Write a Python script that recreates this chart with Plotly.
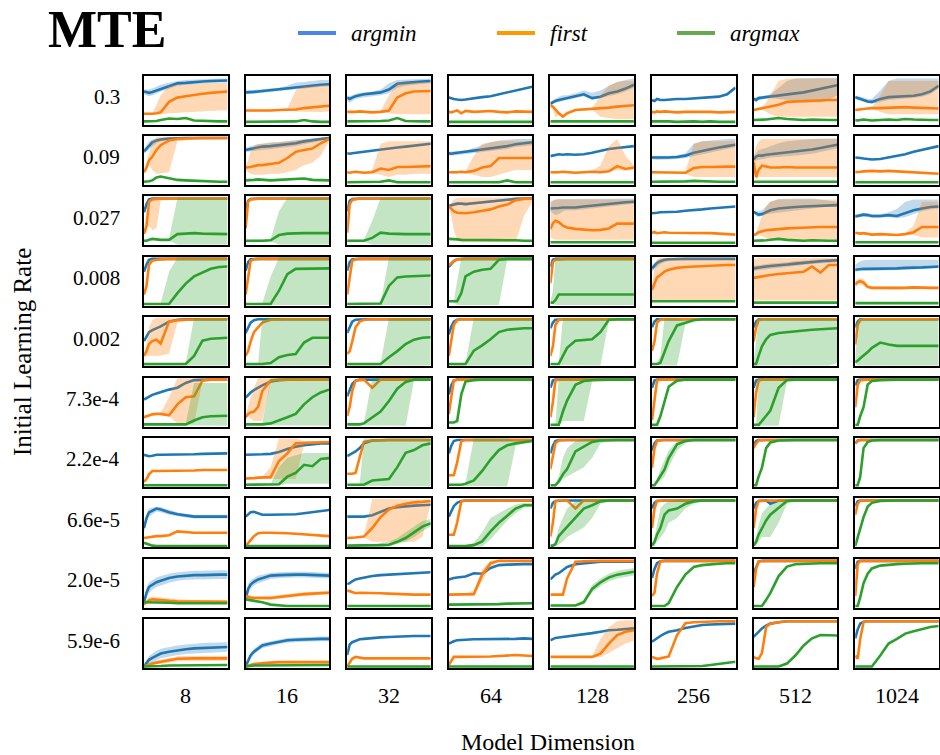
import plotly.graph_objects as go

# ---------------- data ----------------
STEPS = [0, 3, 6, 10, 15, 20, 30, 40, 50, 60, 70, 80, 90, 100]   # % of training
LEARNING_RATES = ["0.3", "0.09", "0.027", "0.008", "0.002", "7.3e-4", "2.2e-4", "6.6e-5", "2.0e-5", "5.9e-6"]
MODEL_DIMS = ["8", "16", "32", "64", "128", "256", "512", "1024"]
SERIES = ["argmin", "first", "argmax"]

ARGMIN = [
 [[68,66,65,67,70,74,80,85,86,88,89,90,91,91],
  [66,66,67,67,68,69,70,72,74,76,78,80,82,83],
  [55,52,55,58,60,62,64,66,72,84,86,88,89,90],
  [55,53,52,51,50,51,54,56,58,62,66,70,74,78],
  [42,45,48,50,52,54,58,62,54,57,64,68,74,82],
  [50,48,52,50,50,51,52,52,53,54,55,57,62,76],
  [52,50,54,55,56,57,59,62,64,66,70,74,77,81],
  [56,54,52,50,47,46,52,56,57,58,59,62,68,80]],
 [[69,75,82,88,92,94,96,97,97,97,97,97,97,97],
  [72,73,74,76,78,79,80,82,84,86,90,93,95,97],
  [65,64,65,66,67,68,70,72,75,77,79,81,83,85],
  [65,64,65,66,66,67,70,73,76,78,80,84,86,88],
  [59,60,62,63,62,63,62,63,66,70,74,76,78,80],
  [56,56,55,56,56,56,57,60,66,70,74,77,80,83],
  [52,58,60,60,62,63,64,66,68,70,73,76,80,83],
  [56,56,55,54,53,52,53,56,60,63,68,72,76,80]],
 [[68,85,95,97,97,97,97,97,97,97,97,97,97,97],
  [70,92,96,97,97,97,97,97,97,97,97,97,97,97],
  [70,92,96,97,97,97,97,97,97,97,97,97,97,97],
  [81,83,85,86,86,85,87,89,91,93,95,96,97,97],
  [76,76,77,77,78,78,78,80,82,84,85,87,89,90],
  [66,66,67,68,68,68,69,71,72,74,76,77,79,80],
  [69,66,63,64,68,72,76,78,79,80,81,82,83,83],
  [59,60,62,63,62,60,60,62,60,66,72,76,79,80]],
 [[70,85,95,97,97,97,97,97,97,97,97,97,97,97],
  [72,90,96,97,97,97,97,97,97,97,97,97,97,97],
  [72,90,96,97,97,97,97,97,97,97,97,97,97,97],
  [80,85,92,96,97,97,97,97,97,97,97,97,97,97],
  [80,95,97,97,97,97,97,97,97,97,97,97,97,97],
  [77,82,88,92,95,96,97,97,97,97,97,97,97,97],
  [77,78,79,80,81,82,83,85,87,89,91,92,93,94],
  [74,75,76,76,76,76,77,77,77,78,78,79,80,81]],
 [[51,62,70,74,78,82,92,96,97,97,97,97,97,97],
  [68,80,90,95,97,97,97,97,97,97,97,97,97,97],
  [68,82,92,96,97,97,97,97,97,97,97,97,97,97],
  [65,82,92,96,97,97,97,97,97,97,97,97,97,97],
  [78,90,96,97,97,97,97,97,97,97,97,97,97,97],
  [80,92,97,97,97,97,97,97,97,97,97,97,97,97],
  [80,92,97,97,97,97,97,97,97,97,97,97,97,97],
  [80,92,97,97,97,97,97,97,97,97,97,97,97,97]],
 [[55,58,62,65,68,71,76,80,90,96,97,97,97,97],
  [59,65,70,75,80,85,93,96,97,97,97,97,97,97],
  [62,75,88,95,97,97,97,97,97,97,97,97,97,97],
  [66,85,95,97,97,97,97,97,97,97,97,97,97,97],
  [80,95,97,97,97,97,97,97,97,97,97,97,97,97],
  [80,95,97,97,97,97,97,97,97,97,97,97,97,97],
  [80,95,97,97,97,97,97,97,97,97,97,97,97,97],
  [85,96,97,97,97,97,97,97,97,97,97,97,97,97]],
 [[66,65,63,64,66,66,66,67,67,67,68,68,69,69],
  [66,66,66,66,67,67,68,72,78,83,86,88,90,90],
  [63,66,70,73,80,90,96,97,97,97,97,97,97,97],
  [69,85,95,97,97,97,97,97,97,97,97,97,97,97],
  [69,85,95,97,97,97,97,97,97,97,97,97,97,97],
  [75,90,96,97,97,97,97,97,97,97,97,97,97,97],
  [85,95,97,97,97,97,97,97,97,97,97,97,97,97],
  [90,96,97,97,97,97,97,97,97,97,97,97,97,97]],
 [[39,60,72,75,80,78,72,68,65,63,63,63,63,63],
  [63,68,72,73,70,67,67,67,67,68,70,72,75,77],
  [63,63,62,62,62,63,66,73,80,83,85,86,87,88],
  [63,75,85,92,96,97,97,97,97,97,97,97,97,97],
  [80,92,96,97,97,97,97,97,97,97,97,97,97,97],
  [80,92,96,97,97,97,97,97,97,97,97,97,97,97],
  [80,92,96,97,97,90,97,97,97,97,97,97,97,97],
  [85,95,97,97,97,97,97,97,97,97,97,97,97,97]],
 [[10,30,42,47,52,55,61,64,66,67,67,68,68,68],
  [16,38,47,53,58,61,66,67,68,68,68,67,67,66],
  [48,50,54,58,60,62,65,67,68,69,70,71,72,73],
  [58,60,61,62,63,64,71,70,82,88,89,90,90,90],
  [58,63,68,71,78,84,90,92,94,95,95,95,95,95],
  [61,80,92,96,97,97,97,97,97,97,97,97,97,97],
  [71,85,95,97,97,97,97,97,97,97,97,97,97,97],
  [80,95,97,97,97,97,97,97,97,97,97,97,97,97]],
 [[2,10,16,20,25,29,33,36,38,40,41,42,42,43],
  [2,15,25,33,40,46,50,54,57,58,59,60,60,60],
  [26,48,53,56,59,60,62,63,64,65,65,66,66,66],
  [50,53,55,57,58,58,59,59,60,60,60,60,61,60],
  [57,60,62,63,64,65,67,70,72,75,78,79,81,82],
  [54,58,62,66,71,75,78,83,86,89,90,91,92,92],
  [64,70,76,82,88,92,95,97,97,97,97,97,97,97],
  [61,80,92,96,97,97,97,97,97,97,97,97,97,97]],
]

FIRST = [
 [[21,21,20,21,22,24,46,55,58,61,63,65,67,68],
  [28,28,27,28,28,27,28,29,30,30,33,35,37,38],
  [25,25,24,25,26,25,24,25,28,55,64,68,68,69],
  [25,24,26,28,22,27,25,26,27,25,24,26,25,25],
  [39,36,30,22,15,22,29,30,31,32,34,36,38,39],
  [25,24,26,25,26,25,24,25,25,26,25,24,25,25],
  [29,30,32,33,35,36,40,46,47,48,49,49,50,50],
  [29,30,30,31,32,33,33,34,35,35,34,33,32,32]],
 [[25,35,50,58,72,82,92,95,96,97,97,97,97,97],
  [35,35,36,38,40,40,42,45,55,68,72,75,86,95],
  [25,24,25,26,25,24,25,33,30,36,36,37,38,38],
  [25,25,24,25,26,25,28,35,38,55,55,55,56,55],
  [25,25,24,25,26,25,24,25,26,25,27,38,32,35],
  [25,25,24,25,24,25,25,24,34,36,36,37,37,37],
  [46,15,30,39,37,35,35,36,35,35,36,35,35,35],
  [25,25,26,27,28,28,27,28,27,26,25,24,23,22]],
 [[23,40,90,95,96,97,97,97,97,97,97,97,97,97],
  [34,90,95,96,97,97,97,97,97,97,97,97,97,97],
  [25,85,94,96,97,97,97,97,97,97,97,97,97,97],
  [81,75,70,67,66,66,68,71,74,80,84,93,96,97],
  [33,45,50,47,40,36,33,31,30,31,34,44,44,44],
  [25,26,24,25,26,25,25,24,25,25,24,23,22,21],
  [20,22,26,28,30,31,33,34,35,36,37,37,37,37],
  [25,24,23,24,22,21,22,21,20,22,26,37,37,37]],
 [[22,40,85,93,95,96,97,97,97,97,97,97,97,97],
  [22,60,93,96,97,97,97,97,97,97,97,97,97,97],
  [22,60,93,96,97,97,97,97,97,97,97,97,97,97],
  [83,88,93,96,97,97,97,97,97,97,97,97,97,97],
  [46,90,95,96,97,97,97,97,97,97,97,97,97,97],
  [32,45,58,63,70,74,78,80,81,82,83,84,84,84],
  [57,58,59,60,62,63,65,67,69,70,81,68,84,84],
  [43,48,50,47,38,36,36,36,35,36,37,36,36,36]],
 [[20,30,45,51,54,46,92,95,96,97,97,97,97,97],
  [20,30,50,70,80,90,96,97,97,97,97,97,97,97],
  [24,30,50,80,92,96,97,97,97,97,97,97,97,97],
  [20,50,85,95,97,97,97,97,97,97,97,97,97,97],
  [20,40,85,96,97,97,97,97,97,97,97,97,97,97],
  [31,50,90,96,97,97,97,97,97,97,97,97,97,97],
  [50,80,95,97,97,97,97,97,97,97,97,97,97,97],
  [44,85,95,97,97,97,97,97,97,97,97,97,97,97]],
 [[18,20,22,24,25,25,22,45,60,62,95,97,97,97],
  [18,25,28,30,40,73,95,97,97,97,97,97,97,97],
  [21,40,73,95,96,97,80,97,97,97,97,97,97,97],
  [25,60,95,97,97,97,97,97,97,97,97,97,97,97],
  [18,50,95,97,97,97,97,97,97,97,97,97,97,97],
  [12,60,95,97,97,97,97,97,97,97,97,97,97,97],
  [18,70,95,97,97,97,97,97,97,97,97,97,97,97],
  [39,85,96,97,97,97,97,97,97,97,97,97,97,97]],
 [[9,15,25,32,32,32,32,33,33,33,34,34,34,34],
  [16,16,17,17,18,18,19,53,69,90,91,92,93,93],
  [26,26,26,28,60,93,96,97,97,97,97,97,97,97],
  [23,23,23,50,95,97,97,97,97,97,97,97,97,97],
  [36,60,90,96,97,97,97,97,97,97,97,97,97,97],
  [39,80,95,97,97,97,97,97,97,97,97,97,97,97],
  [80,90,96,97,97,97,97,97,97,97,97,97,97,97],
  [90,95,97,97,97,97,97,97,97,97,97,97,97,97]],
 [[18,19,20,21,22,22,24,32,30,29,29,29,29,29],
  [1,8,15,22,28,29,29,29,28,27,26,25,23,22],
  [18,18,19,19,20,21,39,62,78,86,90,93,94,96],
  [25,25,25,50,95,97,97,97,97,97,97,97,97,97],
  [21,50,95,97,97,97,80,97,97,97,97,97,97,97],
  [39,80,96,97,97,97,97,97,97,97,97,97,97,97],
  [39,80,96,97,97,97,97,97,97,97,97,97,97,97],
  [67,90,97,97,97,97,97,97,97,97,97,97,97,97]],
 [[6,10,14,16,15,14,13,12,12,11,11,11,11,11],
  [23,21,20,19,19,19,19,21,23,26,27,28,29,30],
  [35,33,30,29,30,30,30,29,28,27,27,26,26,26],
  [26,26,26,26,26,26,27,68,92,97,97,97,97,97],
  [26,26,26,26,26,60,95,96,97,97,97,97,97,97],
  [23,30,70,96,97,97,97,97,97,97,97,97,97,97],
  [42,80,96,97,97,97,97,97,97,97,97,97,97,97],
  [23,90,97,97,97,97,97,97,97,97,97,97,97,97]],
 [[2,4,6,8,10,12,15,18,19,19,19,19,19,19],
  [2,3,5,7,8,9,10,11,11,11,11,11,11,11],
  [2,10,18,22,20,19,19,19,19,19,20,19,20,19],
  [5,15,22,22,22,22,22,23,23,24,25,26,25,24],
  [22,22,22,22,22,22,22,22,22,29,50,68,75,78],
  [22,20,18,19,21,23,68,93,95,96,97,97,97,97],
  [22,19,18,30,85,92,95,97,97,97,97,97,97,97],
  [25,18,60,95,97,97,97,97,97,97,97,97,97,97]],
]

ARGMAX = [
 [[5,5,6,5,6,8,11,10,12,7,6,5,5,5],
  [4,4,4,4,5,4,4,5,4,5,8,5,4,4],
  [5,5,6,5,5,5,5,6,7,12,6,5,5,5],
  [4,4,4,5,4,4,4,5,4,4,5,4,4,4],
  [5,5,5,6,5,5,6,5,5,5,6,5,5,5],
  [5,5,6,5,5,5,4,5,5,4,5,4,4,4],
  [8,8,9,8,9,10,12,10,9,8,9,8,8,8],
  [8,7,8,9,8,7,8,9,8,10,9,8,8,8]],
 [[5,5,6,8,14,16,12,9,8,7,6,5,5,5],
  [8,8,8,9,10,9,8,9,10,10,12,9,8,8],
  [4,4,4,4,4,4,4,5,8,4,4,4,4,4],
  [4,4,4,4,4,4,4,4,4,4,8,4,4,4],
  [4,4,4,4,4,5,4,4,4,4,4,4,4,4],
  [5,5,5,5,5,5,5,6,7,6,5,5,5,5],
  [5,5,6,6,5,5,6,5,5,5,5,5,5,5],
  [4,4,4,4,4,4,4,4,4,4,4,4,4,4]],
 [[8,8,10,12,11,10,10,22,23,24,23,23,22,22],
  [8,8,8,8,7,8,9,20,23,24,24,24,24,24],
  [8,8,8,8,8,8,14,25,23,22,22,22,22,22],
  [12,12,11,11,10,10,10,10,9,10,9,9,8,8],
  [5,5,5,5,5,6,5,5,5,5,5,5,5,5],
  [4,4,4,4,4,4,4,4,4,4,4,4,4,4],
  [8,8,9,8,9,10,12,10,9,8,9,8,8,8],
  [5,5,5,5,5,5,5,5,5,5,6,5,5,5]],
 [[2,2,2,2,2,2,2,25,45,60,68,76,80,81],
  [2,2,2,2,2,2,2,30,65,76,76,77,77,77],
  [2,2,2,2,2,2,2,3,40,58,60,61,62,62],
  [8,8,8,8,25,60,70,74,76,95,97,97,97,97],
  [5,5,10,22,22,22,22,22,23,22,22,22,22,22],
  [8,8,8,8,8,8,8,8,8,8,8,8,8,8],
  [5,5,5,5,5,5,5,5,5,5,5,5,5,5],
  [4,4,4,4,4,4,4,4,4,4,4,4,4,4]],
 [[3,3,3,3,3,3,3,3,3,20,52,56,57,58],
  [3,3,3,3,3,3,5,17,22,24,48,58,58,58],
  [3,3,3,3,3,3,3,3,17,30,45,54,58,59],
  [3,3,3,3,3,3,31,42,55,70,75,77,78,78],
  [3,3,3,3,20,37,52,54,55,70,96,97,97,97],
  [3,3,3,5,30,51,84,90,95,97,97,97,97,97],
  [3,3,20,40,55,64,68,70,72,74,75,76,77,78],
  [7,10,15,20,28,37,48,44,41,41,41,41,41,41]],
 [[3,3,3,3,3,3,3,3,3,11,18,20,21,21],
  [3,3,3,3,3,3,5,11,18,25,45,60,70,76],
  [3,3,3,3,3,5,18,30,52,78,92,97,97,97],
  [7,7,7,10,66,93,96,97,97,97,97,97,97,97],
  [2,2,2,2,30,53,86,94,96,97,97,97,97,97],
  [2,2,2,20,53,82,95,97,97,97,97,97,97,97],
  [2,2,2,10,22,32,80,96,97,97,97,97,97,97],
  [2,2,20,39,87,94,96,97,97,97,97,97,97,97]],
 [[2,2,2,2,2,2,2,2,2,2,2,2,2,2],
  [3,3,3,3,3,3,3,4,20,28,45,42,57,59],
  [3,3,3,3,3,3,12,14,15,40,70,76,86,90],
  [3,3,3,3,3,5,12,32,56,76,86,90,93,95],
  [2,2,2,10,25,36,73,83,93,96,97,97,97,97],
  [2,2,10,22,35,59,88,95,97,97,97,97,97,97],
  [2,2,20,39,80,92,96,97,97,97,97,97,97,97],
  [2,2,20,80,93,96,97,97,97,97,97,97,97,97]],
 [[8,6,4,2,1,1,1,1,1,1,1,1,1,1],
  [1,1,1,1,1,1,1,1,1,1,1,1,1,1],
  [2,2,2,2,2,2,2,3,4,10,18,30,42,49],
  [1,1,1,1,1,1,3,11,32,50,65,80,87,87],
  [2,2,5,22,32,42,60,80,87,95,97,97,97,97],
  [2,10,25,39,67,76,80,90,95,97,97,97,97,97],
  [2,10,25,39,55,67,82,96,97,97,97,97,97,97],
  [1,20,40,62,84,92,96,97,97,97,97,97,97,97]],
 [[10,10,10,10,9,9,9,8,8,8,8,8,8,8],
  [16,15,14,13,12,10,5,3,2,2,2,2,2,2],
  [2,2,2,2,2,2,2,2,2,2,2,2,2,2],
  [5,5,5,5,5,5,5,5,6,6,7,7,8,8],
  [3,3,3,3,3,3,3,10,38,52,62,68,71,74],
  [2,2,2,2,2,8,42,68,84,88,90,91,92,92],
  [2,2,2,2,15,29,65,85,90,91,92,92,92,92],
  [2,2,20,50,70,81,87,89,90,91,92,92,92,92]],
 [[2,2,3,3,3,3,4,4,4,4,5,5,5,5],
  [2,3,3,4,4,4,4,5,5,5,5,5,5,5],
  [2,2,2,2,2,2,2,2,2,2,2,2,2,2],
  [2,2,2,2,2,2,2,2,2,2,2,2,2,2],
  [2,2,2,2,2,2,2,2,2,2,2,2,2,2],
  [2,2,2,2,2,2,2,2,2,3,5,7,9,12],
  [2,2,2,2,2,2,2,8,25,46,61,68,67,67],
  [2,2,2,2,2,2,25,50,60,71,76,80,85,87]],
]

# spread bands over seeds: (row, col, series index, lower, upper)
BANDS = [
 (0,0,0,[62,60,58,60,64,68,74,80,82,84,85,86,87,87],[72,72,72,74,78,82,86,90,92,93,94,95,95,95]),
 (0,0,1,[19,19,18,19,19,20,22,24,25,26,26,27,28,28],[23,23,22,23,40,60,80,82,83,84,85,86,86,86]),
 (0,1,0,[62,62,63,63,64,65,66,68,70,72,74,76,78,79],[70,70,71,71,72,73,74,76,80,86,88,90,92,92]),
 (0,1,1,[26,26,25,26,26,25,26,27,28,26,25,25,25,26],[30,30,29,30,30,29,30,31,32,70,80,80,82,82]),
 (0,2,0,[48,44,48,52,54,56,58,60,64,76,80,82,84,85],[60,58,60,63,65,66,68,72,85,92,93,94,95,95]),
 (0,2,1,[23,23,22,23,24,23,22,23,22,20,20,20,20,20],[27,27,26,27,28,27,26,27,60,86,88,88,88,88]),
 (0,4,0,[38,42,44,47,48,50,54,58,50,53,58,62,68,76],[47,50,54,57,60,60,64,70,65,70,80,88,92,95]),
 (0,4,1,[35,30,14,18,13,20,27,28,29,15,12,10,10,10],[43,40,34,26,20,26,31,32,33,60,80,88,90,90]),
 (0,6,0,[48,46,50,52,53,54,52,50,48,45,45,45,50,60],[56,56,58,58,60,62,75,90,95,96,97,97,97,97]),
 (0,6,1,[27,27,30,30,25,20,15,15,15,15,15,15,15,15],[31,33,34,36,45,60,90,95,95,95,95,95,95,95]),
 (0,7,0,[52,50,48,46,43,42,46,50,52,53,54,57,62,74],[60,58,56,55,52,52,70,90,95,95,95,95,95,95]),
 (0,7,1,[27,28,28,29,30,31,25,20,20,20,20,20,20,20],[31,32,32,33,34,35,60,90,90,90,90,90,90,90]),
 (1,0,0,[64,68,74,80,86,90,93,95,95,95,95,95,95,95],[74,82,90,94,96,97,98,99,99,99,99,99,99,99]),
 (1,0,1,[24,30,40,30,22,22,25,90,92,94,95,95,95,95],[28,42,65,90,98,99,99,99,99,99,99,99,99,99]),
 (1,1,0,[68,68,69,70,72,73,74,76,78,80,84,88,91,94],[76,78,80,82,84,85,86,88,90,92,95,97,98,99]),
 (1,1,1,[30,25,22,20,20,20,22,22,25,30,40,45,60,90],[40,50,70,80,85,85,88,88,90,92,93,95,97,99]),
 (1,2,1,[23,22,23,24,23,22,23,20,15,20,20,22,22,22],[27,26,27,28,27,26,30,85,90,90,90,90,90,90]),
 (1,3,0,[61,60,61,62,62,63,66,68,70,72,74,78,80,82],[69,68,69,70,70,71,76,82,88,92,94,95,95,95]),
 (1,3,1,[23,23,22,23,24,23,20,15,15,20,25,30,30,30],[27,27,26,27,28,27,60,85,88,90,90,90,90,90]),
 (1,4,1,[23,23,22,23,24,23,22,23,24,23,25,30,28,31],[27,27,26,27,28,27,26,27,28,40,80,95,60,40]),
 (1,5,0,[52,52,51,52,52,52,53,55,58,62,66,70,74,78],[60,60,59,60,60,60,61,65,85,90,92,94,95,95]),
 (1,5,1,[23,23,22,23,22,23,23,22,15,15,15,15,15,15],[27,27,26,27,26,27,27,26,85,90,90,90,90,90]),
 (1,6,0,[46,50,50,52,54,56,57,58,60,62,64,67,71,75],[58,66,72,74,76,80,86,90,92,94,95,96,96,96]),
 (1,6,1,[30,10,15,15,15,15,15,15,15,15,15,15,15,15],[60,80,90,95,95,95,95,95,95,95,95,95,95,95]),
 (2,0,1,[20,25,40,30,35,92,95,95,95,95,95,95,95,95],[26,55,96,98,99,99,99,99,99,99,99,99,99,99]),
 (2,0,2,[6,6,8,10,9,8,8,0,0,0,0,0,0,0],[10,10,12,14,13,12,12,98,98,98,98,98,98,98]),
 (2,1,2,[6,6,6,6,5,6,7,0,0,0,0,0,0,0],[10,10,10,10,9,10,11,70,98,98,98,98,98,98]),
 (2,2,2,[6,6,6,6,6,6,0,0,0,0,0,0,0,0],[10,10,10,10,10,10,50,98,98,98,98,98,98,98]),
 (2,3,0,[78,80,82,83,83,82,84,86,88,90,92,94,95,95],[84,86,88,89,89,88,90,92,94,96,97,98,98,98]),
 (2,3,1,[78,60,30,10,5,5,5,5,5,5,5,5,60,90],[85,88,95,98,99,99,99,99,99,99,99,99,99,99]),
 (2,4,0,[70,66,62,64,70,72,72,74,76,78,80,82,84,86],[88,92,95,96,96,96,96,96,96,96,97,97,97,97]),
 (2,4,1,[15,12,10,10,10,10,10,10,10,10,10,10,10,10],[92,94,95,95,95,95,95,95,95,95,95,95,95,95]),
 (2,6,0,[66,60,58,60,64,66,68,70,72,74,76,78,80,80],[72,70,70,72,80,90,96,97,97,97,97,95,92,90]),
 (2,6,1,[18,18,20,18,15,12,10,10,10,10,10,10,10,10],[22,25,40,60,80,90,95,95,95,95,95,95,95,95]),
 (2,7,0,[55,56,58,59,58,56,56,58,55,58,64,70,74,76],[63,64,66,67,66,64,64,68,75,90,95,95,95,95]),
 (2,7,1,[23,22,21,22,20,19,20,19,18,20,20,15,15,15],[27,26,25,26,24,23,24,23,22,24,40,90,90,90]),
 (3,0,2,[0,0,0,0,0,0,0,0,0,0,0,0,0,0],[4,4,4,4,4,4,70,100,100,100,100,100,100,100]),
 (3,1,2,[0,0,0,0,0,0,0,0,0,0,0,0,0,0],[4,4,4,4,4,4,60,100,100,100,100,100,100,100]),
 (3,2,2,[0,0,0,0,0,0,0,0,0,0,0,0,0,0],[4,4,4,4,4,4,4,4,100,100,100,100,100,100]),
 (3,3,2,[6,6,6,0,0,0,0,0,0,0,95,95,95,95],[10,10,10,50,100,100,100,100,100,100,98,98,98,98]),
 (3,4,2,[3,3,0,0,0,0,0,0,0,0,0,0,0,0],[7,30,100,100,100,100,100,100,100,100,100,100,100,100]),
 (3,5,0,[70,74,80,86,90,92,94,95,95,95,95,95,95,95],[84,90,94,97,98,98,98,98,98,98,98,98,98,98]),
 (3,5,1,[10,10,10,10,10,10,10,10,10,10,10,10,10,10],[40,80,95,99,99,99,99,99,99,99,99,99,99,99]),
 (3,6,0,[72,73,74,75,76,77,78,80,82,84,86,88,89,90],[82,83,84,85,86,87,88,90,92,94,95,96,97,97]),
 (3,6,1,[10,10,10,10,10,10,10,10,10,10,10,10,10,10],[95,97,99,99,99,99,99,99,99,99,99,99,99,99]),
 (3,7,0,[70,71,72,72,72,72,73,73,73,74,74,75,76,77],[85,88,92,94,95,95,95,95,95,95,95,95,95,95]),
 (3,7,1,[38,42,44,40,34,33,33,33,32,33,34,33,33,33],[48,54,56,54,42,39,39,39,38,39,40,39,39,39]),
 (4,0,1,[18,20,20,20,20,20,25,90,93,95,95,95,95,95],[22,45,80,95,100,100,100,98,99,99,99,99,99,99]),
 (4,0,2,[0,0,0,0,0,0,0,0,0,0,0,0,0,0],[5,5,5,5,5,5,5,5,5,100,100,100,100,100]),
 (4,1,2,[0,0,0,0,0,0,0,0,0,0,0,0,0,0],[5,5,5,5,5,100,100,100,100,100,100,100,100,100]),
 (4,2,2,[0,0,0,0,0,0,0,0,0,0,0,0,0,0],[5,5,5,5,5,5,5,5,100,100,100,100,100,100]),
 (4,3,2,[0,0,0,0,0,0,0,0,0,0,0,0,0,0],[5,5,5,5,5,5,100,100,100,100,100,100,100,100]),
 (4,4,2,[1,1,1,1,0,0,0,0,0,0,94,95,95,95],[5,5,5,5,100,100,100,100,100,100,98,98,98,98]),
 (4,5,2,[1,1,1,1,0,0,0,88,93,95,95,95,95,95],[5,5,5,20,100,100,100,92,97,98,98,98,98,98]),
 (4,6,2,[0,0,0,0,0,0,0,0,0,0,0,0,0,5],[5,50,100,100,100,100,100,100,100,100,100,100,100,97]),
 (4,7,2,[5,0,0,0,0,0,0,0,0,0,0,0,0,0],[9,97,97,97,97,97,97,97,97,97,97,97,97,97]),
 (5,0,1,[16,18,20,22,23,23,20,5,5,5,93,95,95,95],[20,22,24,26,27,27,60,100,100,100,99,99,99,99]),
 (5,0,2,[1,1,1,1,1,1,1,1,1,0,0,0,0,0],[5,5,5,5,5,5,5,5,5,90,90,90,90,90]),
 (5,1,1,[16,20,15,10,10,10,90,95,95,95,95,95,95,95],[20,40,60,80,100,100,100,99,99,99,99,99,99,99]),
 (5,1,2,[1,1,1,1,1,1,0,0,0,0,0,0,0,0],[5,5,5,5,5,5,100,100,100,100,100,100,100,100]),
 (5,2,2,[1,1,1,1,1,1,0,0,0,0,0,95,95,95],[5,5,5,5,5,5,100,100,100,100,100,99,99,99]),
 (5,4,2,[0,0,0,0,10,10,10,10,94,95,95,95,95,95],[4,4,4,100,100,100,100,100,98,98,98,98,98,98]),
 (5,6,2,[0,0,0,0,0,0,0,94,95,95,95,95,95,95],[4,4,100,100,100,100,100,98,98,98,98,98,98,98]),
 (6,1,1,[14,14,15,15,16,16,15,15,15,15,88,90,91,91],[18,18,19,19,20,20,40,100,100,100,95,95,95,95]),
 (6,1,2,[1,1,1,1,1,1,1,2,5,5,5,5,5,5],[5,5,5,5,5,5,5,40,60,65,70,70,70,70]),
 (6,2,2,[1,1,1,1,1,0,0,0,0,0,0,0,0,0],[5,5,5,5,5,100,100,100,100,100,100,100,100,100]),
 (6,3,2,[1,1,1,1,1,1,0,0,0,0,0,85,90,93],[5,5,5,5,5,7,100,100,100,100,100,95,96,97]),
 (6,4,2,[0,0,0,5,15,20,30,40,60,90,95,95,95,95],[4,4,4,20,60,80,95,99,99,99,99,99,99,99]),
 (6,5,2,[0,0,5,12,20,40,75,90,95,95,95,95,95,95],[4,4,15,35,55,75,95,99,99,99,99,99,99,99]),
 (7,0,0,[30,50,62,68,74,72,67,64,61,59,59,59,59,59],[46,68,80,82,84,83,77,72,69,67,67,67,67,67]),
 (7,2,1,[16,16,17,17,18,19,10,10,10,10,10,10,20,90],[20,20,21,21,22,23,100,100,100,100,100,100,100,99]),
 (7,2,2,[0,0,0,0,0,0,0,0,0,5,10,20,32,42],[4,4,4,4,4,4,4,8,10,18,30,42,54,58]),
 (7,3,2,[0,0,0,0,0,0,0,0,15,35,55,70,82,84],[3,3,3,3,3,3,8,30,60,70,80,88,92,92]),
 (7,4,2,[0,0,0,5,10,20,30,40,60,90,95,95,95,95],[4,4,10,40,60,80,95,99,99,99,99,99,99,99]),
 (7,5,2,[0,2,10,20,30,50,60,80,90,95,95,95,95,95],[4,20,45,80,90,95,99,99,99,99,99,99,99,99]),
 (7,6,2,[0,2,10,20,20,20,50,90,95,95,95,95,95,95],[4,20,45,70,80,90,97,99,99,99,99,99,99,99]),
 (8,0,0,[5,20,30,36,42,45,51,55,57,58,58,59,59,59],[15,40,52,57,62,65,70,73,75,76,76,77,77,77]),
 (8,0,1,[3,5,8,10,10,10,10,9,9,8,8,8,8,8],[9,16,21,22,21,19,17,16,15,14,14,14,14,14]),
 (8,1,0,[10,28,38,45,50,54,59,61,62,62,62,61,61,60],[22,48,56,61,66,68,72,73,74,74,74,73,73,72]),
 (8,1,1,[19,17,16,15,15,15,15,17,19,22,23,24,25,26],[27,25,24,23,23,23,23,25,27,30,31,32,33,34]),
 (8,3,1,[24,24,24,24,24,24,24,55,85,95,95,95,95,95],[28,28,28,28,28,28,35,80,97,99,99,99,99,99]),
 (8,4,2,[1,1,1,1,1,1,1,5,30,44,54,60,63,66],[5,5,5,5,5,5,5,15,46,60,70,76,79,82]),
 (9,0,0,[0,4,8,11,15,19,23,26,28,30,31,32,32,33],[4,16,24,29,35,39,43,46,48,50,51,52,52,53]),
 (9,0,1,[0,2,3,5,6,8,10,13,14,14,14,14,14,14],[4,6,9,11,14,16,20,23,24,24,24,24,24,24]),
 (9,1,0,[0,10,19,27,34,40,45,49,52,53,54,55,55,55],[4,20,31,39,46,52,55,59,62,63,64,65,65,65]),
 (9,1,1,[0,1,3,4,5,6,7,8,8,8,8,8,8,8],[4,5,8,10,11,12,13,14,14,14,14,14,14,14]),
 (9,4,1,[20,20,20,20,20,20,20,20,20,22,30,40,50,56],[24,24,24,24,24,24,24,24,24,60,85,97,99,99]),
]

# ---------------- styling ----------------
W, H = 940, 755
LINE_COLORS = ["#1f77b4", "#ff7f0e", "#2ca02c"]
BAND_COLORS = ["rgba(31,119,180,0.28)", "rgba(255,127,14,0.30)", "rgba(44,160,44,0.28)"]
LEGEND_COLORS = ["#4a86e8", "#ff9900", "#6aa84f"]
SERIF = "Liberation Serif, Times New Roman, serif"

COL_LEFT0, COL_PITCH, PANEL_W = 144.0, 101.6, 83.5
ROW_TOP0, ROW_PITCH, PANEL_H = 75.5, 60.4, 49.0

def px_x(x):
    return x / W

def px_y(y):
    return 1 - y / H

series_data = [ARGMIN, FIRST, ARGMAX]
band_lookup = {(r, c, s): (lo, hi) for r, c, s, lo, hi in BANDS}

fig = go.Figure()
layout_axes = {}
for r in range(len(LEARNING_RATES)):
    for c in range(len(MODEL_DIMS)):
        k = r * len(MODEL_DIMS) + c + 1
        xref = "x" if k == 1 else f"x{k}"
        yref = "y" if k == 1 else f"y{k}"
        for s in range(3):
            if (r, c, s) in band_lookup:
                lo, hi = band_lookup[(r, c, s)]
                fig.add_trace(go.Scatter(
                    x=STEPS + STEPS[::-1], y=hi + lo[::-1], fill="toself",
                    fillcolor=BAND_COLORS[s], line=dict(width=0), mode="lines",
                    hoverinfo="skip", showlegend=False, xaxis=xref, yaxis=yref))
            fig.add_trace(go.Scatter(
                x=STEPS, y=series_data[s][r][c], mode="lines",
                line=dict(color=LINE_COLORS[s], width=2.6),
                name=SERIES[s], showlegend=False, xaxis=xref, yaxis=yref))
        left = COL_LEFT0 + COL_PITCH * c
        top = ROW_TOP0 + ROW_PITCH * r
        common = dict(showline=True, mirror=True, linecolor="black", linewidth=2,
                      showticklabels=False, ticks="", showgrid=False, zeroline=False,
                      fixedrange=True)
        layout_axes["xaxis" if k == 1 else f"xaxis{k}"] = dict(
            domain=[px_x(left), px_x(left + PANEL_W)], range=[0, 100], anchor=yref, **common)
        layout_axes["yaxis" if k == 1 else f"yaxis{k}"] = dict(
            domain=[px_y(top + PANEL_H), px_y(top)], range=[-1.5, 101.5], anchor=xref, **common)

annotations = []
# row labels
for r, lab in enumerate(LEARNING_RATES):
    yc = ROW_TOP0 + ROW_PITCH * r + PANEL_H / 2 - 3
    annotations.append(dict(text=lab, x=px_x(122), y=px_y(yc), xref="paper", yref="paper",
                            xanchor="right", yanchor="middle", showarrow=False,
                            font=dict(family=SERIF, size=21, color="black")))
# column labels
for c, lab in enumerate(MODEL_DIMS):
    xc = COL_LEFT0 + COL_PITCH * c + PANEL_W / 2
    annotations.append(dict(text=lab, x=px_x(xc), y=px_y(695), xref="paper", yref="paper",
                            xanchor="center", yanchor="middle", showarrow=False,
                            font=dict(family=SERIF, size=22, color="black")))
annotations.append(dict(text="Model Dimension", x=px_x(548), y=px_y(742), xref="paper", yref="paper",
                        xanchor="center", yanchor="middle", showarrow=False,
                        font=dict(family=SERIF, size=24, color="black")))
annotations.append(dict(text="Initial Learning Rate", x=px_x(22), y=px_y(352), xref="paper", yref="paper",
                        xanchor="center", yanchor="middle", showarrow=False, textangle=-90,
                        font=dict(family=SERIF, size=25, color="black")))
annotations.append(dict(text="<b>MTE</b>", x=px_x(46), y=px_y(30), xref="paper", yref="paper",
                        xanchor="left", yanchor="middle", showarrow=False,
                        font=dict(family=SERIF, size=52, color="black")))

# legend (manual, top row)
LEGEND_X = [298, 497, 677]
shapes = []
for s, lx in enumerate(LEGEND_X):
    shapes.append(dict(type="line", xref="paper", yref="paper",
                       x0=px_x(lx), x1=px_x(lx + 38), y0=px_y(33), y1=px_y(33),
                       line=dict(color=LEGEND_COLORS[s], width=4)))
    annotations.append(dict(text=f"<i>{SERIES[s]}</i>", x=px_x(lx + 51), y=px_y(33),
                            xref="paper", yref="paper", xanchor="left", yanchor="middle",
                            showarrow=False, font=dict(family=SERIF, size=23, color="black")))

fig.update_layout(
    width=W, height=H, margin=dict(l=0, r=0, t=0, b=0),
    paper_bgcolor="white", plot_bgcolor="white",
    showlegend=False, annotations=annotations, shapes=shapes,
    **layout_axes)

fig.write_html("out.html")
